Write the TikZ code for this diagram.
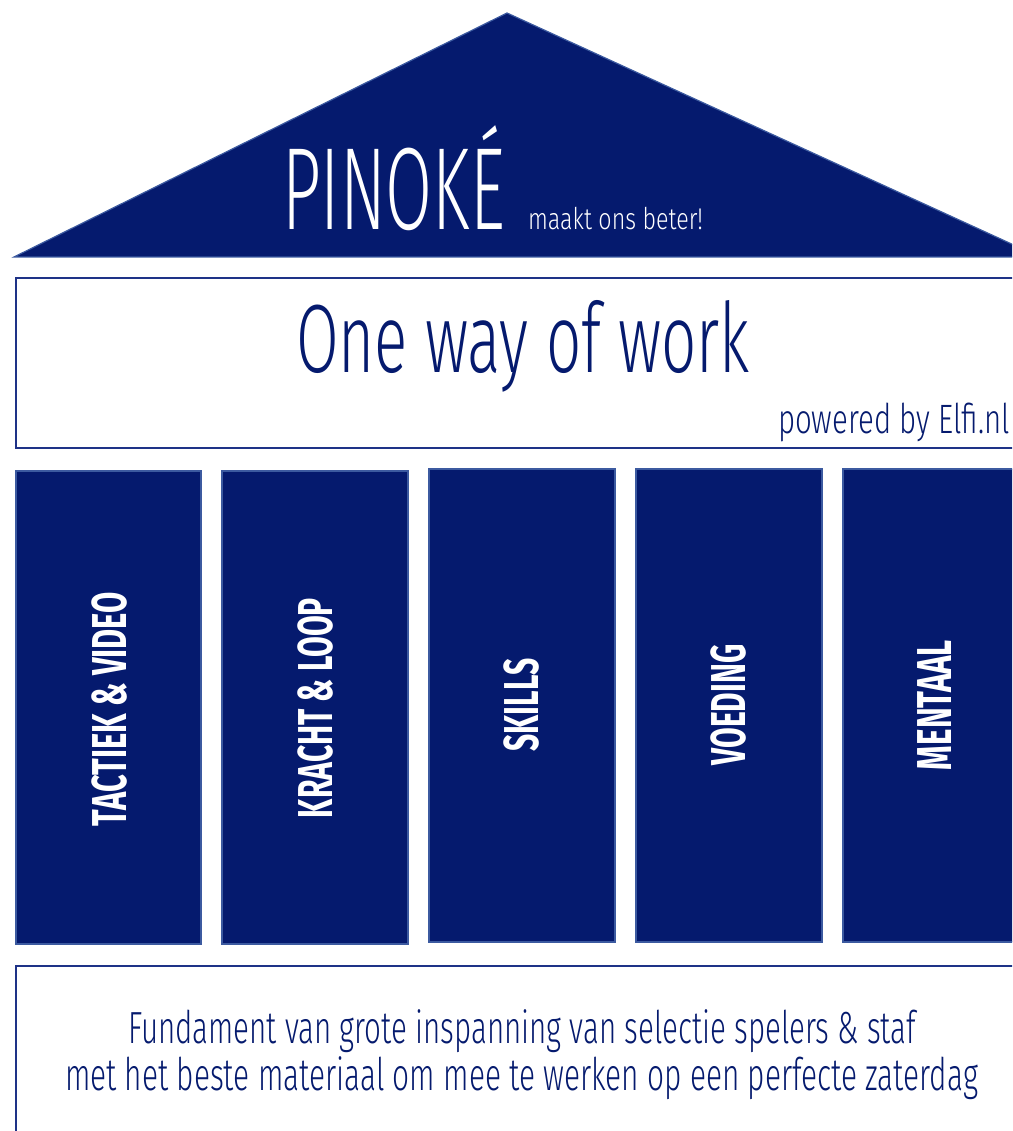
\documentclass[tikz,border=0pt]{standalone}
\usepackage{fontspec}
\usepackage{graphicx}
\setmainfont{Fira Sans}
\newfontfamily\thinfont{Fira Sans Light}
\newfontfamily\boldfont{Fira Sans}[BoldFont={* Bold}]
\definecolor{navy}{RGB}{5,26,110}
\definecolor{edge}{RGB}{60,90,160}
\definecolor{boxedge}{RGB}{30,50,135}
\newcommand\fitw[2]{\resizebox{#1}{\height}{#2}}
\tikzset{
  roof/.style={fill=navy, draw=edge, line width=1.2pt},
  pillar/.style={fill=navy, draw=edge, line width=1.5pt},
  band/.style={fill=white, draw=boxedge, line width=1.6pt},
  txt/.style={inner sep=0pt, outer sep=0pt},
}
\begin{document}
\begin{tikzpicture}[x=1pt,y=-1pt]
\useasboundingbox (0,0) rectangle (1012,1131);
\clip (0,0) rectangle (1012,1131);
% roof
\draw[roof] (507,13) -- (14,257) -- (1040,257) -- cycle;
\node[txt, anchor=base west, text=white, font=\thinfont\fontsize{117}{117}\selectfont] (pinoke) at (282,230) {\fitw{223pt}{PINOKÉ}};
\node[txt, anchor=base west, text=white, font=\thinfont\fontsize{30}{30}\selectfont] (maakt) at (528,230) {\fitw{175pt}{maakt ons beter!}};
% top band
\draw[band] (16,278) rectangle (1040,448);
\node[txt, anchor=base west, text=navy, font=\thinfont\fontsize{97}{97}\selectfont] (oneway) at (296,372) {\fitw{454pt}{One way of work}};
\node[txt, anchor=base west, text=navy, font=\thinfont\fontsize{41}{41}\selectfont] (powered) at (778,433) {\fitw{232pt}{powered by Elfi.nl}};
% pillars
\draw[pillar] (16,471) rectangle (201,944);
\draw[pillar] (222,471) rectangle (408,944);
\draw[pillar] (429,469) rectangle (615,942);
\draw[pillar] (636,469) rectangle (822,942);
\draw[pillar] (843,469) rectangle (1029,942);
\tikzset{ptxt/.style={txt, rotate=90, text=white, font=\boldfont\bfseries\fontsize{49}{49}\selectfont}}
\node[ptxt] (p1) at (110,709) {\fitw{234pt}{TACTIEK \& VIDEO}};
\node[ptxt] (p2) at (316,708) {\fitw{220pt}{KRACHT \& LOOP}};
\node[ptxt] (p3) at (522,705) {\fitw{93pt}{SKILLS}};
\node[ptxt] (p4) at (729,705) {\fitw{121pt}{VOEDING}};
\node[ptxt] (p5) at (935,705) {\fitw{130pt}{MENTAAL}};
% foundation
\draw[band, line width=2.2pt] (16,966) rectangle (1040,1160);
\node[txt, anchor=base west, text=navy, font=\thinfont\fontsize{45}{45}\selectfont] (f1) at (128,1043) {\fitw{788pt}{Fundament van grote inspanning van selectie spelers \& staf}};
\node[txt, anchor=base west, text=navy, font=\thinfont\fontsize{45}{45}\selectfont] (f2) at (65,1090) {\fitw{913pt}{met het beste materiaal om mee te werken op een perfecte zaterdag}};
\end{tikzpicture}
\end{document}
